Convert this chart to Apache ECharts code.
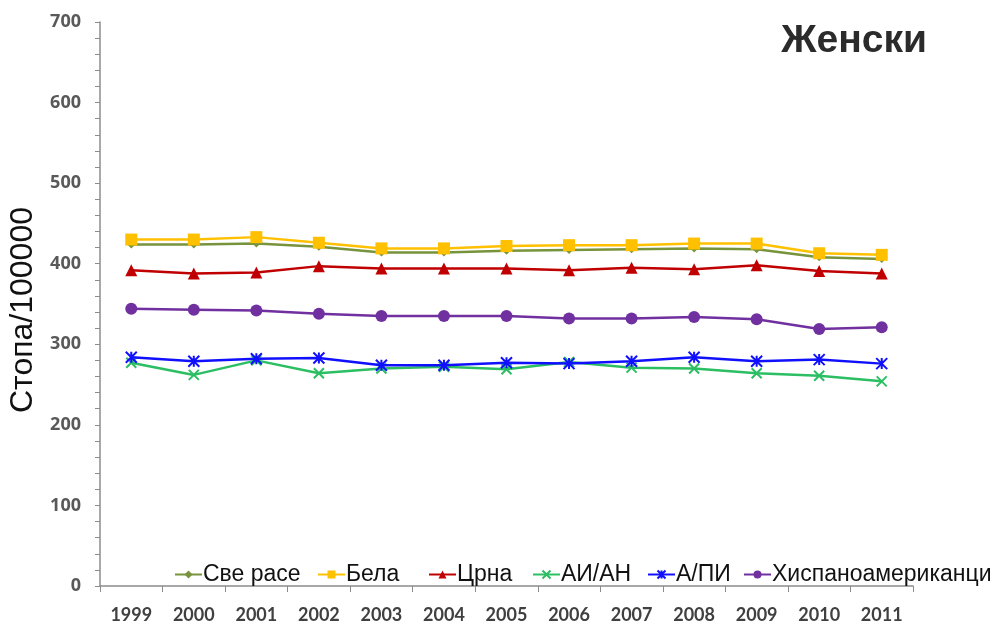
<!DOCTYPE html>
<html>
<head>
<meta charset="utf-8">
<script src="https://cdn.jsdelivr.net/npm/echarts@6/dist/echarts.min.js"></script>
<style>
  html, body { margin: 0; padding: 0; background: #fff; }
  #chart { width: 995px; height: 625px; }
</style>
</head>
<body>
<div id="chart"></div>
<script>
// Incidence rates per 100,000, women, by race/ethnicity
const years = ['1999','2000','2001','2002','2003','2004','2005','2006','2007','2008','2009','2010','2011'];
const allRaces = [424, 424, 425, 421, 414, 414, 416, 417, 418, 419, 418, 408, 406];
const white    = [430, 430, 433, 426, 419, 419, 422, 423, 423, 425, 425, 413, 411];
const black    = [392, 388, 389, 397, 394, 394, 394, 392, 395, 393, 398, 391, 388];
const aian     = [277, 262, 280, 264, 270, 272, 269, 278, 271, 270, 264, 261, 254];
const api      = [284, 279, 282, 283, 274, 274, 277, 276, 279, 284, 279, 281, 276];
const hispanic = [344, 343, 342, 338, 335, 335, 335, 332, 332, 334, 331, 319, 321];

const seriesNames = ['Све расе', 'Бела', 'Црна', 'АИ/АН', 'А/ПИ', 'Хиспаноамериканци'];
const seriesData  = [allRaces, white, black, aian, api, hispanic];
const seriesColors = ['#77933C', '#FFC000', '#C00000', '#2BBE63', '#1010FF', '#7030A0'];

const crossPath = 'path://M0,0L10,10M10,0L0,10';
const starPath  = 'path://M0,0L10,10M10,0L0,10M5,0L5,10';
const symbols = ['diamond', 'rect', 'triangle', crossPath, starPath, 'circle'];
const sizes   = [8, 12, 12, 10, 11, 12];

// left edge of each legend entry (legend entries sit in fixed slots)
const legendLefts = [174, 317, 428, 532, 647, 743];

const chart = echarts.init(document.getElementById('chart'), null, { renderer: 'canvas' });

const series = seriesNames.map((name, i) => {
  const stroked = i === 3 || i === 4;
  return {
    name: name,
    type: 'line',
    data: seriesData[i],
    symbol: symbols[i],
    symbolSize: sizes[i],
    showAllSymbol: true,
    lineStyle: { color: seriesColors[i], width: 2.5 },
    itemStyle: stroked
      ? { color: 'rgba(0,0,0,0)', borderColor: seriesColors[i], borderWidth: 2 }
      : { color: seriesColors[i], borderColor: seriesColors[i], borderWidth: 0 },
    emphasis: { disabled: true },
    z: 2 + i
  };
});

const legends = seriesNames.map((name, i) => ({
  data: [name],
  left: legendLefts[i],
  top: 563,
  padding: 0,
  itemWidth: 27,
  itemHeight: 10,
  selectedMode: false,
  textStyle: { fontFamily: 'Liberation Sans', fontSize: 23, color: '#111', padding: [0, 0, 0, -4] }
}));

chart.setOption({
  animation: false,
  backgroundColor: '#ffffff',
  color: seriesColors,
  title: {
    text: 'Женски',
    right: 68,
    top: 22,
    padding: 0,
    textStyle: { fontFamily: 'Liberation Sans', fontWeight: 'bold', fontSize: 39, color: '#2b2b2b' }
  },
  legend: legends,
  grid: { left: 100, right: 82, top: 22, bottom: 39, outerBoundsMode: 'none', containLabel: false },
  xAxis: {
    type: 'category',
    data: years,
    boundaryGap: true,
    axisLine: { lineStyle: { color: '#8c8c8c', width: 1.5 } },
    axisTick: { show: true, alignWithLabel: false, length: 6, lineStyle: { color: '#8c8c8c' } },
    axisLabel: { fontFamily: 'Lato', fontWeight: 'bold', fontSize: 18, color: '#404040', margin: 20 }
  },
  yAxis: {
    type: 'value',
    min: 0,
    max: 700,
    interval: 100,
    name: 'Стопа/100000',
    nameLocation: 'middle',
    nameGap: 59,
    nameTextStyle: { fontFamily: 'Liberation Sans', fontSize: 32, color: '#111', padding: [0, 12, 0, 0] },
    axisLine: { show: true, lineStyle: { color: '#8c8c8c', width: 1.5 } },
    axisTick: { show: true, length: 5, inside: false, lineStyle: { color: '#8c8c8c' } },
    minorTick: { show: true, splitNumber: 5, length: 5, lineStyle: { color: '#8c8c8c' } },
    splitLine: { show: false },
    axisLabel: { fontFamily: 'Open Sans', fontWeight: 'bold', fontSize: 18, color: '#595959', margin: 19 }
  },
  series: series
});
</script>
</body>
</html>
